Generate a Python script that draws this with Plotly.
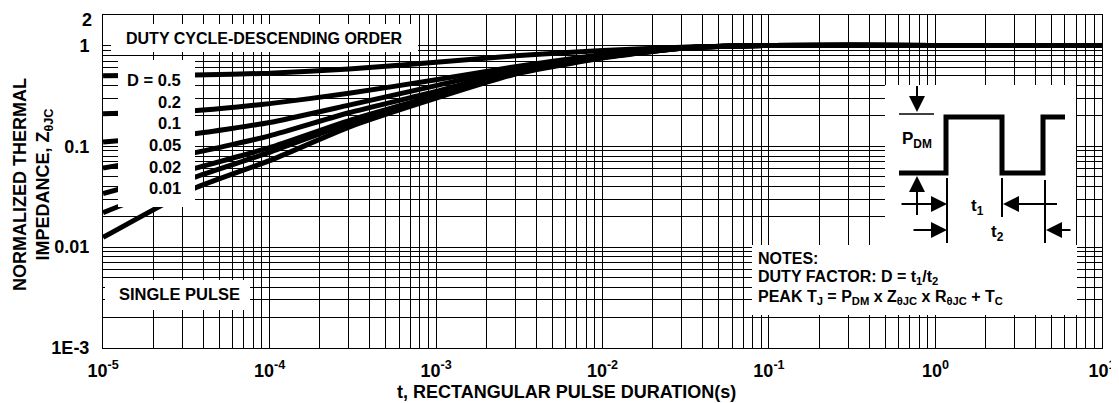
import plotly.graph_objects as go
import math

# ---------------- data ----------------
t_s = [1e-5, 3.5e-5, 1e-4, 3e-4, 1e-3, 3e-3, 1e-2, 3e-2, 1e-1, 1.0, 10.0]
z_d050 = [0.50, 0.51, 0.53, 0.585, 0.68, 0.79, 0.89, 0.96, 1.0, 1.0, 1.0]
z_d020 = [0.21, 0.225, 0.265, 0.335, 0.457, 0.617, 0.81, 0.955, 1.0, 1.0, 1.0]
z_d010 = [0.11, 0.133, 0.172, 0.256, 0.40, 0.60, 0.79, 0.945, 1.0, 1.0, 1.0]
z_d005 = [0.061, 0.086, 0.127, 0.215, 0.35, 0.57, 0.78, 0.94, 1.0, 1.0, 1.0]
z_d002 = [0.034, 0.060, 0.097, 0.18, 0.32, 0.55, 0.77, 0.94, 1.0, 1.0, 1.0]
z_d001 = [0.022, 0.049, 0.087, 0.17, 0.31, 0.535, 0.76, 0.94, 1.0, 1.0, 1.0]
z_single = [0.0125, 0.038, 0.072, 0.155, 0.30, 0.52, 0.75, 0.94, 1.0, 1.0, 1.0]

duty_labels = ["D = 0.5", "0.2", "0.1", "0.05", "0.02", "0.01"]

x_major = [1e-5, 1e-4, 1e-3, 1e-2, 1e-1, 1e0, 1e1]
x_major_text = ["10<sup>-5</sup>", "10<sup>-4</sup>", "10<sup>-3</sup>", "10<sup>-2</sup>",
                "10<sup>-1</sup>", "10<sup>0</sup>", "10<sup>1</sup>"]
y_major = [1e-3, 1e-2, 1e-1, 1.0]
y_major_text = ["1E-3", "0.01", "0.1", "1"]
y_top_label = "2"

# ---------------- layout geometry ----------------
# the page body adds an 8px margin, so the figure is shrunk by it and
# every position below is given in screenshot pixels (OFF compensates).
OFF = 8
W, H = 1119 - OFF, 403 - OFF
PLOT_L, PLOT_R, PLOT_T, PLOT_B = 103, 1102, 15, 348   # screenshot pixels
ML, MR, MT, MB = PLOT_L - OFF, 1119 - PLOT_R, PLOT_T - OFF, 403 - PLOT_B
PW, PH = PLOT_R - PLOT_L, PLOT_B - PLOT_T


def px(x):
    return (x - PLOT_L) / PW


def py(y):
    return (PLOT_B - y) / PH


FONT = "Liberation Sans, Arial, sans-serif"


def grid_vals(lo_exp, hi_exp, top):
    vals = []
    for e in range(lo_exp, hi_exp + 1):
        for k in range(1, 10):
            v = k * 10 ** e
            if v <= top * 1.0001:
                vals.append(v)
    return vals


def labels_for(grid, major, major_text):
    out = []
    for v in grid:
        lab = ""
        for m, s in zip(major, major_text):
            if abs(v - m) / m < 1e-6:
                lab = s
        out.append(lab)
    return out


x_grid = grid_vals(-5, 1, 10.0)
y_grid = grid_vals(-3, 0, 2.0)
x_text = labels_for(x_grid, x_major, x_major_text)
y_text = labels_for(y_grid, y_major, y_major_text)

fig = go.Figure()
for z in [z_d050, z_d020, z_d010, z_d005, z_d002, z_d001, z_single]:
    fig.add_trace(go.Scatter(x=t_s, y=z, mode="lines",
                             line=dict(color="black", width=5, shape="spline", smoothing=0.5),
                             showlegend=False, hoverinfo="skip"))

shapes = []
annotations = []


def white_box(x0, y0, x1, y1):
    shapes.append(dict(type="rect", xref="paper", yref="paper", layer="above",
                       x0=px(x0), x1=px(x1), y0=py(y1), y1=py(y0),
                       fillcolor="white", line=dict(width=0)))


def seg(x0, y0, x1, y1, w=2):
    shapes.append(dict(type="line", xref="paper", yref="paper", layer="above",
                       x0=px(x0), x1=px(x1), y0=py(y0), y1=py(y1),
                       line=dict(color="black", width=w)))


def text(x, y, s, size=16, xanchor="left"):
    annotations.append(dict(x=px(x), y=py(y), xref="paper", yref="paper", text=s,
                            showarrow=False, xanchor=xanchor, yanchor="middle",
                            font=dict(family=FONT, size=size, color="black", weight="bold")))


def arrow(tx, ty, ax, ay):
    annotations.append(dict(x=px(tx), y=py(ty), xref="paper", yref="paper", text="",
                            showarrow=True, ax=ax - tx, ay=ay - ty, arrowhead=2,
                            arrowsize=1.6, arrowwidth=2, arrowcolor="black", standoff=0))


# white boxes
white_box(111, 24, 418, 52)
white_box(118, 60, 195, 207)
white_box(105, 280, 250, 310)
white_box(885, 85, 1076, 246)
white_box(752, 245, 1077, 315)

# labels
text(124, 38, "DUTY CYCLE-DESCENDING ORDER", 16)
label_y = [80, 102, 123, 145, 167, 188]
for lab, yy in zip(duty_labels, label_y):
    text(183, yy, lab, 16.5, xanchor="right")
text(117, 294, "SINGLE PULSE", 16.5)
text(756, 258, "NOTES:", 16)
text(756, 277, "DUTY FACTOR: D = t<sub>1</sub>/t<sub>2</sub>", 16)
text(756, 297, "PEAK T<sub>J</sub> = P<sub>DM</sub> x Z<sub>θJC</sub> x R<sub>θJC</sub> + T<sub>C</sub>", 16)

# top y label (placed just inside the page so it is not clipped)
text(94, 20, y_top_label, 18, xanchor="right")

# inset pulse diagram
wave = [(899, 173), (946, 173), (946, 117), (1002, 117), (1002, 173), (1043, 173), (1043, 117), (1065, 117)]
path = "M " + " L ".join(f"{px(a):.5f},{py(b):.5f}" for a, b in wave)
shapes.append(dict(type="path", xref="paper", yref="paper", layer="above", path=path,
                   line=dict(color="black", width=5)))
seg(899, 114, 934, 114, 1.5)
seg(917, 86, 917, 100, 2)
seg(917, 190, 917, 215, 2)
seg(947, 178, 947, 243, 2)
seg(1002, 178, 1002, 217, 2)
seg(1045, 180, 1045, 243, 2)
seg(1040, 204, 1057, 204, 2)
arrow(917, 112, 917, 87)
arrow(917, 176, 917, 215)
arrow(947, 204, 900, 204)
arrow(1003, 204, 1057, 204)
arrow(947, 230, 912, 230)
arrow(1046, 230, 1072, 230)
text(917, 140, "P<sub>DM</sub>", 17, xanchor="center")
text(977, 207, "t<sub>1</sub>", 17, xanchor="center")
text(997, 233, "t<sub>2</sub>", 17, xanchor="center")

# axis titles
annotations.append(dict(x=px(33), y=py(185), xref="paper", yref="paper",
                        text="NORMALIZED THERMAL<br>IMPEDANCE, Z<sub>θJC</sub>", textangle=-90,
                        showarrow=False, xanchor="center", yanchor="middle",
                        font=dict(family=FONT, size=18, color="black", weight="bold")))
annotations.append(dict(x=px(566), y=py(392), xref="paper", yref="paper",
                        text="t, RECTANGULAR PULSE DURATION(s)",
                        showarrow=False, xanchor="center", yanchor="middle",
                        font=dict(family=FONT, size=18, color="black", weight="bold")))

axis_common = dict(showgrid=True, gridcolor="black", gridwidth=1, zeroline=False,
                   showline=True, linecolor="black", linewidth=1, mirror=True, ticks="",
                   ticklabeloverflow="allow", automargin=False,
                   tickfont=dict(family=FONT, size=18, color="black", weight="bold"))

fig.update_layout(
    width=W, height=H,
    margin=dict(l=ML, r=MR, t=MT, b=MB, pad=0, autoexpand=False),
    paper_bgcolor="white", plot_bgcolor="white",
    xaxis=dict(type="log", range=[-5.0005, 1.0005], tickmode="array", tickvals=x_grid, ticktext=x_text,
               ticklabelstandoff=6, **axis_common),
    yaxis=dict(type="log", range=[-3.0005, math.log10(2) + 0.001], tickmode="array", tickvals=y_grid,
               ticktext=y_text, ticklabelstandoff=9, **axis_common),
    shapes=shapes, annotations=annotations,
)

fig.write_html("out.html")
